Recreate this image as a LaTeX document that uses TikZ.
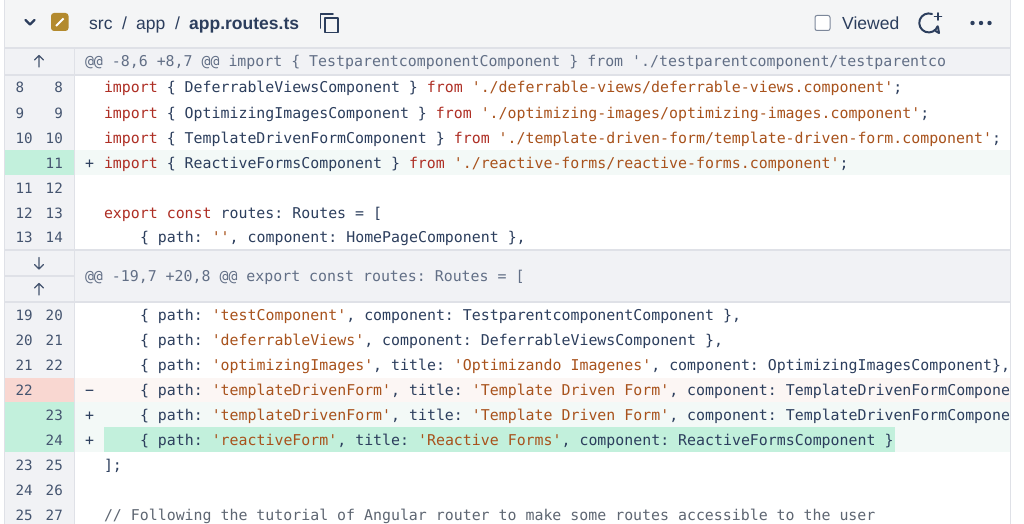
\documentclass[tikz,border=0pt]{standalone}
\usepackage{fontspec}
\setmainfont{Liberation Sans}
\newfontfamily\codefont{DejaVu Sans Mono}
\newfontfamily\uifont{Liberation Sans}
\definecolor{cHead}{HTML}{F4F5F6}
\definecolor{cGut}{HTML}{F1F2F5}
\definecolor{cLine}{HTML}{DFE1E7}
\definecolor{cInk}{HTML}{2C3E5D}
\definecolor{cNum}{HTML}{44546F}
\definecolor{cHunk}{HTML}{626F86}
\definecolor{cKw}{HTML}{AE2E24}
\definecolor{cStr}{HTML}{A8521C}
\definecolor{cCmt}{HTML}{5E6672}
\definecolor{cAddG}{HTML}{C2F0DC}
\definecolor{cAddL}{HTML}{F3F9F7}
\definecolor{cDelG}{HTML}{F9D7D1}
\definecolor{cDelL}{HTML}{FCF6F4}
\definecolor{cGold}{HTML}{B38A2E}
\newcommand{\ckw}[1]{\textcolor{cKw}{#1}}
\newcommand{\cst}[1]{\textcolor{cStr}{#1}}
\tikzset{
  codetxt/.style={anchor=base west,inner sep=0pt,outer sep=0pt,text=cInk,font=\codefont\fontsize{14.9}{18}\selectfont\frenchspacing},
  hunktxt/.style={codetxt,text=cHunk},
  cmttxt/.style={codetxt,text=cCmt},
  signtxt/.style={anchor=base,inner sep=0pt,text=cInk,font=\codefont\fontsize{14.9}{18}\selectfont},
  numl/.style={anchor=base west,inner sep=0pt,text=cNum,font=\codefont\fontsize{14.2}{18}\selectfont},
  numr/.style={anchor=base east,inner sep=0pt,text=cNum,font=\codefont\fontsize{14.2}{18}\selectfont},
  pathtxt/.style={anchor=base west,inner sep=0pt,text=cInk,font=\uifont\fontsize{17.5}{20}\selectfont},
  icon/.style={draw=cInk,line width=1.9pt,line cap=round,line join=round},
  arrowicon/.style={draw=cNum,line width=1.3pt,line cap=round,line join=round},
  gridline/.style={draw=cLine,line width=1.4pt},
}
\newcommand{\rownums}[3]{% baseline, left, right
  \node[numl] (nl#1) at (15.5,#1) {#2};
  \node[numr] (nr#1) at (63,#1) {#3};
}
\begin{document}
\begin{tikzpicture}[x=1pt,y=-1pt]
\useasboundingbox (0,0) rectangle (1024,524);
\fill[white] (0,0) rectangle (1024,524);
% header
\fill[cHead] (5,0) rectangle (1010,48);
% gutter
\fill[cGut] (5,48) rectangle (74,524);
% hunk bands
\fill[cGut] (5,49) rectangle (1010,75);
\fill[cGut] (5,250) rectangle (1010,302);
% added / removed rows
\fill[cAddL] (75,150) rectangle (1010,175);
\fill[cAddG] (5,150) rectangle (75,175);
\fill[cDelL] (75,378) rectangle (1010,402);
\fill[cDelG] (5,378) rectangle (75,402);
\fill[cAddL] (75,402) rectangle (1010,452);
\fill[cAddG] (5,402) rectangle (75,452);
\fill[cAddG] (103.5,427) rectangle (895,452);
% grid lines
\draw[gridline] (4.5,0) -- (4.5,524);
\draw[gridline] (1010.5,0) -- (1010.5,524);
\draw[gridline] (74.5,48) -- (74.5,524);
\draw[gridline] (5,48) -- (1010,48);
\draw[gridline] (5,75) -- (1010,75);
\draw[gridline] (5,250) -- (1010,250);
\draw[gridline] (5,302) -- (1010,302);
\draw[gridline] (5,276) -- (74,276);
% header contents
\draw[icon,line width=2.2pt] (25.5,20) -- (30,24.5) -- (34.5,20);
\fill[cGold,rounded corners=3pt] (51,13) rectangle (68.5,31);
\draw[white,line width=2pt] (56,26) -- (63.5,18.5);
\node[pathtxt] (src) at (89,30) {src};
\node[pathtxt] (s1) at (122,30) {/};
\node[pathtxt] (app) at (136,30) {app};
\node[pathtxt] (s2) at (175,30) {/};
\node[pathtxt,font=\uifont\bfseries\fontsize{17.5}{20}\selectfont] (file) at (189,30) {app.routes.ts};
\draw[icon] (325,32.5) rectangle (338,18);
\draw[icon] (320.5,28) -- (320.5,14) -- (333,14);
\draw[draw=cNum!70,line width=1pt,rounded corners=2pt,fill=white] (815,15.5) rectangle (830,30.5);
\node[pathtxt] (viewed) at (842,30) {Viewed};
\draw[icon,line width=2pt] (932,14) arc[start angle=-70,end angle=-340,radius=9.5] ;
\draw[icon,line width=2pt] (935.5,31) -- (939,33) -- (938,27);
\draw[icon,line width=1.7pt] (938,13) -- (938,20) (934.5,16.5) -- (941.5,16.5);
\fill[cInk] (972.5,23) circle (2.2) (981,23) circle (2.2) (989.5,23) circle (2.2);
% hunk arrows
\draw[arrowicon] (39,55.5) -- (39,67) (34.5,60) -- (39,55.5) -- (43.5,60);
\draw[arrowicon] (39,257.5) -- (39,269) (34.5,264.5) -- (39,269) -- (43.5,264.5);
\draw[arrowicon] (39,283.5) -- (39,295) (34.5,288) -- (39,283.5) -- (43.5,288);
% line numbers
\rownums{93}{8}{8}
\rownums{118}{9}{9}
\rownums{143}{10}{10}
\node[numr] (nr168) at (63,168) {11};
\rownums{193}{11}{12}
\rownums{218}{12}{13}
\rownums{242.5}{13}{14}
\rownums{320.5}{19}{20}
\rownums{345.5}{20}{21}
\rownums{370.5}{21}{22}
\node[numl] (nl395) at (15.5,395.5) {22};
\node[numr] (nr420) at (63,420.5) {23};
\node[numr] (nr445) at (63,445.5) {24};
\rownums{470.5}{23}{25}
\rownums{495.5}{24}{26}
\rownums{520}{25}{27}
% signs
\node[signtxt] (p11) at (89.5,168) {+};
\node[signtxt] (m22) at (89.5,395.5) {−};
\node[signtxt] (p23) at (89.5,420.5) {+};
\node[signtxt] (p24) at (89.5,445.5) {+};
% code
\node[hunktxt] (h1) at (85,66.5) {@@ -8,6 +8,7 @@ import \{ TestparentcomponentComponent \} from './testparentcomponent/testparentco};
\node[hunktxt] (h2) at (85,281.5) {@@ -19,7 +20,8 @@ export const routes: Routes = [};
\node[codetxt] (c8) at (104,93) {\ckw{import} \{ DeferrableViewsComponent \} \ckw{from} \cst{'./deferrable-views/deferrable-views.component'};};
\node[codetxt] (c9) at (104,118) {\ckw{import} \{ OptimizingImagesComponent \} \ckw{from} \cst{'./optimizing-images/optimizing-images.component'};};
\node[codetxt] (c10) at (104,143) {\ckw{import} \{ TemplateDrivenFormComponent \} \ckw{from} \cst{'./template-driven-form/template-driven-form.component'};};
\node[codetxt] (c11) at (104,168) {\ckw{import} \{ ReactiveFormsComponent \} \ckw{from} \cst{'./reactive-forms/reactive-forms.component'};};
\node[codetxt] (c13) at (104,218) {\ckw{export} \ckw{const} routes: Routes = [};
\node[codetxt] (c14) at (140,242.5) {\{ path: \cst{''}, component: HomePageComponent \},};
\node[codetxt] (c20) at (140,320.5) {\{ path: \cst{'testComponent'}, component: TestparentcomponentComponent \},};
\node[codetxt] (c21) at (140,345.5) {\{ path: \cst{'deferrableViews'}, component: DeferrableViewsComponent \},};
\node[codetxt] (c22) at (140,370.5) {\{ path: \cst{'optimizingImages'}, title: \cst{'Optimizando Imagenes'}, component: OptimizingImagesComponent\},};
\node[codetxt] (d22) at (140,395.5) {\{ path: \cst{'templateDrivenForm'}, title: \cst{'Template Driven Form'}, component: TemplateDrivenFormCompone};
\node[codetxt] (c23) at (140,420.5) {\{ path: \cst{'templateDrivenForm'}, title: \cst{'Template Driven Form'}, component: TemplateDrivenFormCompone};
\node[codetxt] (c24) at (140,445.5) {\{ path: \cst{'reactiveForm'}, title: \cst{'Reactive Forms'}, component: ReactiveFormsComponent \}};
\node[codetxt] (c25) at (104,470.5) {];};
\node[cmttxt] (c27) at (104,520) {// Following the tutorial of Angular router to make some routes accessible to the user};
\end{tikzpicture}
\end{document}
